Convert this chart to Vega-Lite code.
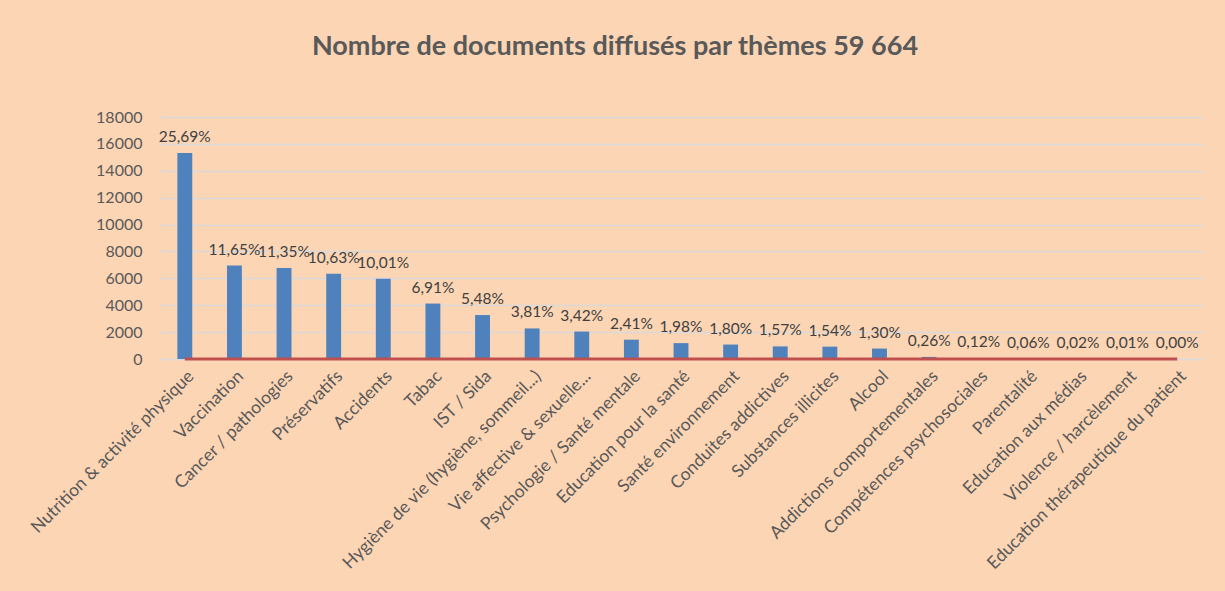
{
  "$schema": "https://vega.github.io/schema/vega-lite/v6.json",
  "autosize": {"type": "none"},
  "padding": {"left": 160, "top": 117, "right": 23, "bottom": 232},
  "width": 1042,
  "height": 242,
  "background": "#FCD5B4",
  "title": {
    "text": "Nombre de documents diffusés par thèmes 59 664",
    "fontSize": 27,
    "font": "Lato",
    "fontWeight": "bold",
    "color": "#595959",
    "anchor": "middle",
    "dx": -66,
    "offset": 48
  },
  "data": {
    "values": [
      {"theme": "Nutrition & activité physique", "documents": 15328, "pct": 0.2569},
      {"theme": "Vaccination", "documents": 6951, "pct": 0.1165},
      {"theme": "Cancer / pathologies", "documents": 6772, "pct": 0.1135},
      {"theme": "Préservatifs", "documents": 6342, "pct": 0.1063},
      {"theme": "Accidents", "documents": 5972, "pct": 0.1001},
      {"theme": "Tabac", "documents": 4123, "pct": 0.0691},
      {"theme": "IST / Sida", "documents": 3270, "pct": 0.0548},
      {"theme": "Hygiène de vie (hygiène, sommeil...)", "documents": 2273, "pct": 0.0381},
      {"theme": "Vie affective & sexuelle...", "documents": 2040, "pct": 0.0342},
      {"theme": "Psychologie / Santé mentale", "documents": 1438, "pct": 0.0241},
      {"theme": "Education pour la santé", "documents": 1181, "pct": 0.0198},
      {"theme": "Santé environnement", "documents": 1074, "pct": 0.018},
      {"theme": "Conduites addictives", "documents": 937, "pct": 0.0157},
      {"theme": "Substances illicites", "documents": 919, "pct": 0.0154},
      {"theme": "Alcool", "documents": 776, "pct": 0.013},
      {"theme": "Addictions comportementales", "documents": 155, "pct": 0.0026},
      {"theme": "Compétences psychosociales", "documents": 72, "pct": 0.0012},
      {"theme": "Parentalité", "documents": 36, "pct": 0.0006},
      {"theme": "Education aux médias", "documents": 12, "pct": 0.0002},
      {"theme": "Violence / harcèlement", "documents": 6, "pct": 0.0001},
      {"theme": "Education thérapeutique du patient", "documents": 2, "pct": 0.0}
    ]
  },
  "encoding": {
    "x": {
      "field": "theme",
      "type": "nominal",
      "sort": null,
      "scale": {"paddingInner": 0.7, "paddingOuter": 0.35},
      "axis": {
        "title": null,
        "labelAngle": -45,
        "labelFont": "Lato",
        "labelFontSize": 17.5,
        "labelColor": "#595959",
        "labelPadding": 8,
        "labelLimit": 400,
        "labelOverlap": false,
        "domain": false,
        "ticks": false
      }
    }
  },
  "layer": [
    {
      "mark": {"type": "bar", "color": "#4F81BD"},
      "encoding": {
        "y": {
          "field": "documents",
          "type": "quantitative",
          "scale": {"domain": [0, 18000]},
          "axis": {
            "title": null,
            "values": [0, 2000, 4000, 6000, 8000, 10000, 12000, 14000, 16000, 18000],
            "format": "d",
            "labelFont": "Lato",
            "labelFontSize": 16,
            "labelColor": "#595959",
            "labelPadding": 18,
            "labelOverlap": false,
            "domain": false,
            "ticks": false,
            "gridColor": "#D9D9D9",
            "gridWidth": 1.5
          }
        }
      }
    },
    {
      "mark": {"type": "text", "baseline": "bottom", "dy": -8, "font": "Lato", "fontSize": 15.5, "color": "#404040"},
      "encoding": {
        "y": {
          "field": "documents",
          "type": "quantitative",
          "scale": {"domain": [0, 18000]},
          "axis": {
            "title": null,
            "values": [0, 2000, 4000, 6000, 8000, 10000, 12000, 14000, 16000, 18000],
            "format": "d",
            "labelFont": "Lato",
            "labelFontSize": 16,
            "labelColor": "#595959",
            "labelPadding": 18,
            "labelOverlap": false,
            "domain": false,
            "ticks": false,
            "gridColor": "#D9D9D9",
            "gridWidth": 1.5
          }
        },
        "text": {"field": "pct", "type": "quantitative", "format": ".2%"}
      }
    },
    {
      "mark": {"type": "line", "color": "#C0504D", "strokeWidth": 3},
      "encoding": {
        "y": {
          "field": "pct",
          "type": "quantitative",
          "scale": {"domain": [0, 18000]},
          "axis": {
            "title": null,
            "values": [0, 2000, 4000, 6000, 8000, 10000, 12000, 14000, 16000, 18000],
            "format": "d",
            "labelFont": "Lato",
            "labelFontSize": 16,
            "labelColor": "#595959",
            "labelPadding": 18,
            "labelOverlap": false,
            "domain": false,
            "ticks": false,
            "gridColor": "#D9D9D9",
            "gridWidth": 1.5
          }
        }
      }
    }
  ],
  "config": {
    "locale": {
      "number": {"decimal": ",", "thousands": " ", "grouping": [3], "currency": ["", " €"]}
    },
    "axis": {"labelOverlap": false},
    "view": {"stroke": null}
  }
}
